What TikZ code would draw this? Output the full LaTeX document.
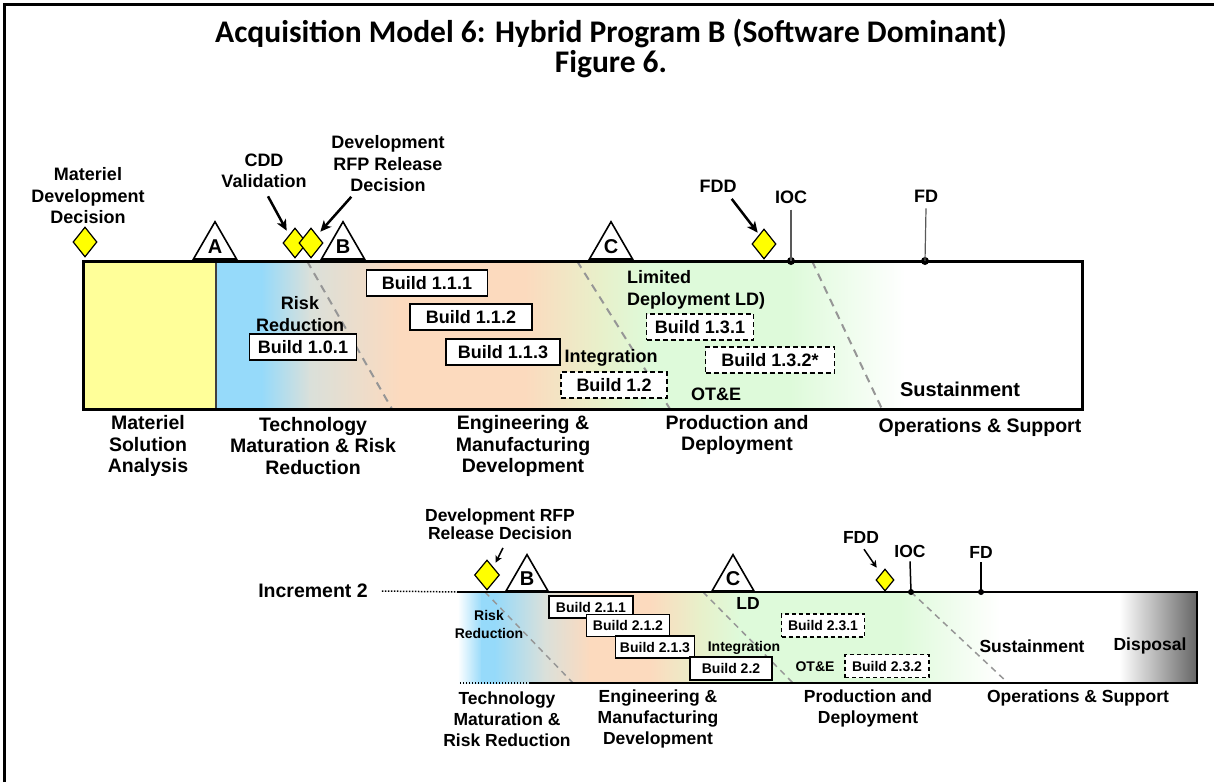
\documentclass[tikz,border=0pt]{standalone}
\usepackage{fontspec}
\setmainfont{Liberation Sans}
\newfontfamily\titlefont{Carlito}
\usetikzlibrary{shapes.geometric,arrows.meta}

\definecolor{msa}{RGB}{255,255,153}
\definecolor{tblue}{RGB}{150,218,250}
\definecolor{tgrey}{RGB}{218,224,218}
\definecolor{peach}{RGB}{252,218,190}
\definecolor{ygreen}{RGB}{232,240,202}
\definecolor{lgreen}{RGB}{222,250,218}
\definecolor{dispgray}{RGB}{100,100,100}
\definecolor{sepgray}{RGB}{150,150,150}
\definecolor{msyellow}{RGB}{255,255,0}

\begin{document}
\begin{tikzpicture}[x=1pt,y=-1pt,
  lab/.style={align=center, inner sep=0pt, font=\fontsize{18}{21.5}\selectfont\bfseries},
  phase/.style={align=center, inner sep=0pt, font=\fontsize{19.5}{21.5}\selectfont\bfseries},
  slab/.style={align=center, inner sep=0pt, font=\fontsize{17.5}{18.5}\selectfont\bfseries},
  tlab/.style={align=center, inner sep=0pt, font=\fontsize{14}{18}\selectfont\bfseries},
  build/.style={draw, fill=white, line width=1.5pt, inner sep=0pt, minimum height=26pt,
    font=\fontsize{18}{20}\selectfont\bfseries},
  dbuild/.style={build, dash pattern=on 5pt off 3pt},
  sbuild/.style={draw, fill=white, line width=1.3pt, inner sep=0pt, minimum height=22pt,
    font=\fontsize{14}{16}\selectfont\bfseries},
  dsbuild/.style={sbuild, dash pattern=on 4pt off 3pt},
  milestone/.style={diamond, draw, fill=msyellow, line width=1.2pt, inner sep=0pt,
    minimum width=24pt, minimum height=30pt},
  gate/.style={regular polygon, regular polygon sides=3, draw, fill=white, line width=1.6pt,
    inner sep=0pt, minimum size=49.7pt, font=\fontsize{20}{20}\selectfont\bfseries},
  sgate/.style={gate, minimum size=48.5pt},
  dot/.style={circle, fill=black, inner sep=0pt, minimum size=8pt},
  sdot/.style={circle, fill=black, inner sep=0pt, minimum size=6pt},
  sep/.style={draw=sepgray, line width=2pt, dash pattern=on 8pt off 6pt},
  ssep/.style={draw=sepgray, line width=1.5pt, dash pattern=on 6pt off 5pt},
  arr/.style={line width=2.5pt, -{Stealth[length=11pt,width=10pt,inset=3pt]}},
  sarr/.style={line width=1.5pt, -{Stealth[length=7pt,width=7pt,inset=2pt]}},
  lead/.style={line width=1.5pt, dash pattern=on 1.5pt off 1.5pt}
]
\useasboundingbox (0,0) rectangle (1214,782);
\fill[white] (0,0) rectangle (1214,782);

% page frame
\draw[line width=3pt] (4.5,782) -- (4.5,4.5) -- (1214,4.5);

% title
\node[font=\titlefont\fontsize{31.5}{33}\selectfont\bfseries, inner sep=0pt] (title) at (611,33)
  {Acquisition Model 6: Hybrid Program B (Software Dominant)};
\node[font=\titlefont\fontsize{31.5}{33}\selectfont\bfseries, inner sep=0pt] (fig) at (611,64) {Figure 6.};

% ---------- Increment 1 phase bar ----------
\fill[msa] (83,261) rectangle (216,409);
\foreach \xa/\xb/\ca/\cb in {216/262/tblue/tblue, 262/310/tblue/tgrey, 310/400/tgrey/peach,
    400/525/peach/peach, 525/600/peach/ygreen, 600/650/ygreen/lgreen,
    650/790/lgreen/lgreen, 790/905/lgreen/white}
  \shade[left color=\ca, right color=\cb] (\xa-0.3,261) rectangle (\xb+0.3,409);

\coordinate (d1t) at (307,261); \coordinate (d1b) at (392,409);
\coordinate (d2t) at (577,261); \coordinate (d2b) at (670,409);
\coordinate (d3t) at (812,261); \coordinate (d3b) at (882,409);
\draw[sep] (d1t) -- (d1b);
\draw[sep] (d2t) -- (d2b);
\draw[sep] (d3t) -- (d3b);

\draw[line width=1.5pt, black!75] (216,261) -- (216,409);
\draw[line width=3pt] (83,261) rectangle (1082,409);

% builds, increment 1
\node[build, minimum width=107pt] (b101) at (303,347) {Build 1.0.1};
\node[build, minimum width=121pt] (b111) at (427,283) {Build 1.1.1};
\node[build, minimum width=122pt] (b112) at (471,317) {Build 1.1.2};
\node[build, minimum width=114pt] (b113) at (503,352) {Build 1.1.3};
\node[dbuild, minimum width=106pt] (b12) at (614,385) {Build 1.2};
\node[dbuild, minimum width=107pt] (b131) at (700,327) {Build 1.3.1};
\node[dbuild, minimum width=129pt] (b132) at (770,360) {Build 1.3.2*};

% labels inside the bar
\node[lab] (rr1) at (300,314) {Risk\\Reduction};
\node[lab] (integ1) at (611,358) {Integration};
\node[lab, align=left, anchor=west] (ld1) at (627,290) {Limited\\Deployment LD)};
\node[lab] (ote1) at (716,394) {OT\&E};
\node[lab, font=\fontsize{20}{22}\selectfont\bfseries] (sus1) at (960,389) {Sustainment};

% phase names below the bar
\node[phase] (p1) at (148,446) {Materiel\\Solution\\Analysis};
\node[phase] (p2) at (313,446) {Technology\\Maturation \& Risk\\Reduction};
\node[phase] (p3) at (523,446) {Engineering \&\\Manufacturing\\Development};
\node[phase] (p4) at (737,435) {Production and\\Deployment};
\node[phase] (p5) at (980,427) {Operations \& Support};

% milestone gates
\node[gate] (gA) at (215,246.6) {A};
\node[gate] (gB) at (343,246.6) {B};
\node[gate] (gC) at (611,246.6) {C};

% decision points
\node[lab] (mddlab) at (88,196) {Materiel\\Development\\Decision};
\node[milestone] (mdd) at (85,242) {};
\node[lab] (cddlab) at (264,171) {CDD\\Validation};
\node[lab] (rfplab) at (388,164) {Development\\RFP Release\\Decision};
\node[milestone] (cdd) at (295,243) {};
\node[milestone] (rfp) at (311,243) {};
\node[lab] (fddlab) at (718,186) {FDD};
\node[milestone] (fdd) at (764,244) {};
\draw[arr] ([shift={(4,8)}]cddlab.south) -- ([shift={(-2,-4.5)}]cdd.north west);
\draw[arr] ([shift={(20,4.5)}]rfplab.south west) -- ([shift={(3,-3.5)}]rfp.north east);
\draw[arr] ([shift={(-5,6.5)}]fddlab.south east) -- ([shift={(0,-3.5)}]fdd.north west);

\node[lab] (ioclab) at (791,197) {IOC};
\node[dot] (iocdot) at (791,261) {};
\draw[line width=1.2pt, black!65] ([yshift=-6]ioclab.south) -- (iocdot.center);
\node[lab] (fdlab) at (926,196) {FD};
\node[dot] (fddot) at (925,261) {};
\draw[line width=1.2pt, black!65] ([yshift=-6]fdlab.south) -- (fddot.center);

% ---------- Increment 2 phase bar ----------
\foreach \xa/\xb/\ca/\cb in {458/482/white/tblue, 482/495/tblue/tblue, 495/545/tblue/tgrey,
    545/590/tgrey/peach, 590/650/peach/peach, 650/700/peach/ygreen, 700/740/ygreen/lgreen,
    740/900/lgreen/lgreen, 900/1000/lgreen/white, 1000/1120/white/white,
    1120/1197/white/dispgray}
  \shade[left color=\ca, right color=\cb] (\xa-0.3,592) rectangle (\xb+0.3,683);

\coordinate (e1t) at (485,592); \coordinate (e1b) at (573,683);
\coordinate (e2t) at (703,592); \coordinate (e2b) at (793,683);
\coordinate (e3t) at (911,592); \coordinate (e3b) at (1008,683);
\draw[ssep] (e1t) -- (e1b);
\draw[ssep] (e2t) -- (e2b);
\draw[ssep] (e3t) -- (e3b);

\coordinate (bartl) at (457,592);
\coordinate (barbl) at (458,683);
\coordinate (barbs) at (530,683);
\draw[line width=2pt] (bartl) -- (1197,592) -- (1197,683) -- (barbs);
\draw[lead] (barbs) -- (barbl);

\node[phase] (inc2) at (313,591) {Increment 2};
\draw[lead] ([xshift=14]inc2.east) -- (bartl);

% builds, increment 2
\node[sbuild, minimum width=84pt] (b211) at (591,607) {Build 2.1.1};
\node[sbuild, minimum width=83pt] (b212) at (628,625.5) {Build 2.1.2};
\node[sbuild, minimum width=79pt] (b213) at (655,647) {Build 2.1.3};
\node[sbuild, minimum width=82pt, minimum height=23pt] (b22) at (731,668.5) {Build 2.2};
\node[dsbuild, minimum width=83pt, minimum height=23pt] (b231) at (823,625.5) {Build 2.3.1};
\node[dsbuild, minimum width=84pt, minimum height=23pt] (b232) at (887,666) {Build 2.3.2};

\node[tlab] (rr2) at (489,624) {Risk\\Reduction};
\node[tlab] (integ2) at (744,648) {Integration};
\node[tlab] (ote2) at (815,667) {OT\&E};
\node[slab] (ld2) at (748,603) {LD};
\node[slab] (sus2) at (1032,646) {Sustainment};
\node[slab] (disp2) at (1150,646) {Disposal};

\node[slab, font=\fontsize{17.5}{21}\selectfont\bfseries] (q2) at (507,719) {Technology\\Maturation \&\\Risk Reduction};
\node[slab, font=\fontsize{17.5}{21}\selectfont\bfseries] (q3) at (658,719) {Engineering \&\\Manufacturing\\Development};
\node[slab, font=\fontsize{17.5}{21}\selectfont\bfseries] (q4) at (868,708) {Production and\\Deployment};
\node[slab] (q5) at (1078,698) {Operations \& Support};

\node[sgate] (hB) at (527,578.9) {B};
\node[sgate] (hC) at (733,578.9) {C};

\node[slab] (rfp2lab) at (500,524) {Development RFP\\Release Decision};
\node[milestone, minimum width=25pt] (rfp2) at (487,575) {};
\draw[sarr] ([shift={(3,8)}]rfp2lab.south) -- ([shift={(2,-4.5)}]rfp2.north east);

\node[slab] (fdd2lab) at (861,537) {FDD};
\node[milestone, minimum width=18pt, minimum height=22pt] (fdd2) at (885,580) {};
\draw[sarr] ([shift={(3,6)}]fdd2lab.south) -- ([shift={(-3.5,-6.5)}]fdd2.north west);

\node[slab] (ioc2lab) at (910,551) {IOC};
\node[sdot] (ioc2dot) at (911,592) {};
\draw[line width=1.5pt] ([yshift=-4]ioc2lab.south) -- (ioc2dot.center);
\node[slab] (fd2lab) at (981,552) {FD};
\node[sdot] (fd2dot) at (981,592) {};
\draw[line width=1.5pt] ([yshift=-4]fd2lab.south) -- (fd2dot.center);

\end{tikzpicture}
\end{document}
